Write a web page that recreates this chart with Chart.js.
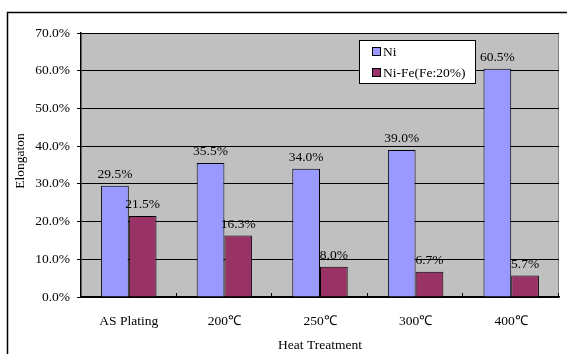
<!DOCTYPE HTML>
<html>
<head>
  <meta charset="UTF-8">
  <script src="https://cdn.jsdelivr.net/npm/chart.js"></script>
  <style>
    html, body {
      margin: 0;
      padding: 0;
      background: #ffffff;
    }
    .chart-container {
      width: 567px;
      height: 354px;
    }
  </style>
</head>
<body>
  <div class="chart-container">
    <canvas id="elongChart" width="567" height="354"></canvas>
  </div>

<script>
  const categories = ['AS Plating', '200\u2103', '250\u2103', '300\u2103', '400\u2103'];
  const niValues = [29.5, 35.5, 34.0, 39.0, 60.5];
  const niFeValues = [21.5, 16.3, 8.0, 6.7, 5.7];
  const seriesNames = ['Ni', 'Ni-Fe(Fe:20%)'];
  const xTitle = 'Heat Treatment';
  const yTitle = 'Elongaton';

  const serif = "'Liberation Serif', 'Times New Roman', serif";
  const fontSize = 13.5;

  // gray plot area, outer frame, axis titles
  const framePlugin = {
    id: 'frame',
    beforeDraw(chart) {
      const { ctx, chartArea: a } = chart;
      ctx.save();
      ctx.fillStyle = '#C0C0C0';
      ctx.fillRect(a.left, a.top, a.right - a.left, a.bottom - a.top);
      ctx.strokeStyle = '#808080';
      ctx.lineWidth = 1;
      ctx.beginPath();
      ctx.moveTo(a.right - 0.5, a.top);
      ctx.lineTo(a.right - 0.5, a.bottom);
      ctx.stroke();

      ctx.strokeStyle = '#000';
      ctx.lineWidth = 1.5;
      ctx.beginPath();
      ctx.moveTo(7.5, 354);
      ctx.lineTo(7.5, 12.5);
      ctx.lineTo(567, 12.5);
      ctx.stroke();

      ctx.fillStyle = '#000';
      ctx.font = fontSize + 'px ' + serif;
      ctx.textAlign = 'center';
      ctx.textBaseline = 'middle';
      ctx.fillText(xTitle, (a.left + a.right) / 2, 345);
      ctx.translate(20, 161);
      ctx.rotate(-Math.PI / 2);
      ctx.fillText(yTitle, 0, 0);
      ctx.restore();
    },
    afterDatasetsDraw(chart) {
      const { ctx, chartArea: a } = chart;
      ctx.save();
      // small category ticks on the axis
      ctx.strokeStyle = '#000';
      ctx.lineWidth = 1;
      const step = (a.right - a.left) / categories.length;
      ctx.beginPath();
      for (let i = 1; i <= categories.length; i++) {
        const px = Math.round(a.left + step * i) - 0.5;
        ctx.moveTo(px, a.bottom);
        ctx.lineTo(px, a.bottom - 4);
      }
      ctx.stroke();

      // value labels
      ctx.fillStyle = '#000';
      ctx.font = fontSize + 'px ' + serif;
      ctx.textAlign = 'center';
      ctx.textBaseline = 'alphabetic';
      chart.data.datasets.forEach((ds, di) => {
        chart.getDatasetMeta(di).data.forEach((el, i) => {
          ctx.fillText(ds.data[i].toFixed(1) + '%', el.x, el.y - 8);
        });
      });

      // legend box
      ctx.fillStyle = '#fff';
      ctx.fillRect(359.5, 40.5, 116, 43);
      ctx.strokeStyle = '#000';
      ctx.strokeRect(359.5, 40.5, 116, 43);
      const rows = [52, 73];
      chart.data.datasets.forEach((ds, di) => {
        ctx.fillStyle = ds.backgroundColor;
        ctx.fillRect(372.5, rows[di] - 4.5, 8, 8);
        ctx.strokeRect(372.5, rows[di] - 4.5, 8, 8);
        ctx.fillStyle = '#000';
        ctx.textAlign = 'left';
        ctx.textBaseline = 'middle';
        ctx.fillText(ds.label, 383, rows[di]);
      });
      ctx.restore();
    }
  };

  const ctx = document.getElementById('elongChart').getContext('2d');
  const chart = new Chart(ctx, {
    type: 'bar',
    data: {
      labels: categories,
      datasets: [{
        label: seriesNames[0],
        data: niValues,
        backgroundColor: '#9999FF',
        borderColor: '#000',
        borderWidth: 1,
        categoryPercentage: 0.58,
        barPercentage: 1
      }, {
        label: seriesNames[1],
        data: niFeValues,
        backgroundColor: '#993366',
        borderColor: '#000',
        borderWidth: 1,
        categoryPercentage: 0.58,
        barPercentage: 1
      }]
    },
    options: {
      responsive: false,
      animation: false,
      layout: {
        padding: { left: 0, right: 8, top: 33, bottom: 0 }
      },
      plugins: {
        legend: { display: false },
        tooltip: { enabled: false }
      },
      scales: {
        x: {
          afterFit(scale) { scale.height = 57; },
          grid: { display: false, drawTicks: false },
          border: { color: '#000', width: 1.5 },
          ticks: {
            color: '#000',
            padding: 16,
            font: { family: serif, size: fontSize }
          }
        },
        y: {
          min: 0,
          max: 70,
          afterFit(scale) { scale.width = 81; },
          border: { color: '#000', width: 1.5 },
          grid: {
            color: '#000',
            lineWidth: 1,
            tickLength: 4
          },
          ticks: {
            stepSize: 10,
            color: '#000',
            padding: 7,
            font: { family: serif, size: fontSize },
            callback: v => v.toFixed(1) + '%'
          }
        }
      }
    },
    plugins: [framePlugin]
  });
</script>
</body>
</html>
